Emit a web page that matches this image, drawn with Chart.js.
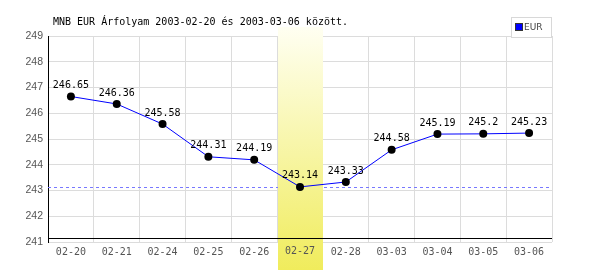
<!DOCTYPE html>
<html lang="hu">
<head>
  <meta charset="UTF-8" />
  <title>MNB EUR Árfolyam</title>
  <script src="https://cdn.jsdelivr.net/npm/chart.js"></script>
  <style>
    * { margin: 0; padding: 0; box-sizing: border-box; }
    body { background: white; }
    .chart-container { position: relative; width: 600px; height: 270px; }
  </style>
</head>
<body>
  <div class="chart-container">
    <canvas id="rateChart"></canvas>
  </div>

  <script>
    // data
    const dates = ["02-20", "02-21", "02-24", "02-25", "02-26", "02-27", "02-28", "03-03", "03-04", "03-05", "03-06"];
    const eurRates = [246.65, 246.36, 245.58, 244.31, 244.19, 243.14, 243.33, 244.58, 245.19, 245.2, 245.23];
    const highlightDay = "02-27";
    const yMin = 241;
    const yMax = 249;
    const titleText = "MNB EUR Árfolyam 2003-02-20 és 2003-03-06 között.";
    const seriesName = "EUR";

    const mono = "'DejaVu Sans Mono', monospace";

    // grid extras + yellow highlight column, drawn under the line
    const backdrop = {
      id: 'backdrop',
      beforeDatasetsDraw(chart) {
        const { ctx, chartArea: a, scales: { x, y } } = chart;
        ctx.save();

        // dashed line at the minimum
        const yLow = y.getPixelForValue(Math.min(...eurRates));
        ctx.strokeStyle = '#7878ff';
        ctx.lineWidth = 1;
        ctx.setLineDash([3, 3]);
        ctx.beginPath();
        ctx.moveTo(a.left, Math.round(yLow) + 0.5);
        ctx.lineTo(a.right, Math.round(yLow) + 0.5);
        ctx.stroke();
        ctx.setLineDash([]);

        // highlight column
        const idx = dates.indexOf(highlightDay);
        const cx = x.getPixelForValue(idx);
        const w = (a.right - a.left) / dates.length;
        const top = a.top - 9;
        const bottom = chart.height;
        const g = ctx.createLinearGradient(0, top, 0, bottom);
        g.addColorStop(0, '#fffff2');
        g.addColorStop(1, '#f0ec5c');
        ctx.fillStyle = g;
        ctx.fillRect(Math.round(cx - w / 2) + 1, top, Math.round(w) - 1, bottom - top);

        // its tick label sits on top of the column
        ctx.font = '10px ' + mono;
        ctx.fillStyle = '#555';
        ctx.textAlign = 'center';
        ctx.textBaseline = 'top';
        ctx.fillText(highlightDay, cx, a.bottom + 4);

        // black base line
        ctx.strokeStyle = '#000';
        ctx.beginPath();
        ctx.moveTo(a.left, a.bottom - 4 + 0.5);
        ctx.lineTo(a.right, a.bottom - 4 + 0.5);
        ctx.stroke();
        ctx.restore();
      },
      afterDatasetsDraw(chart) {
        const { ctx } = chart;
        const pts = chart.getDatasetMeta(0).data;
        ctx.save();
        ctx.font = '10px ' + mono;
        ctx.fillStyle = '#000';
        ctx.textAlign = 'center';
        ctx.textBaseline = 'bottom';
        pts.forEach((p, i) => {
          ctx.fillText(String(eurRates[i]), p.x, p.y - 6);
        });
        ctx.restore();
      },
      afterDraw(chart) {
        const { ctx } = chart;
        ctx.save();
        // title
        ctx.font = '10px ' + mono;
        ctx.fillStyle = '#000';
        ctx.textBaseline = 'middle';
        ctx.textAlign = 'left';
        ctx.fillText(titleText, 53, 22);

        // legend box
        ctx.fillStyle = '#fff';
        ctx.fillRect(512, 17, 40, 20);
        ctx.strokeStyle = '#d8d8d8';
        ctx.strokeRect(511.5, 17.5, 40, 20);
        ctx.fillStyle = '#0000ff';
        ctx.fillRect(516, 24, 6, 6);
        ctx.strokeStyle = '#333';
        ctx.strokeRect(515.5, 23.5, 7, 7);
        ctx.fillStyle = '#444';
        ctx.font = "9px 'DejaVu Sans', sans-serif";
        ctx.fillText(seriesName, 524, 27.5);
        ctx.restore();
      }
    };

    new Chart(document.getElementById('rateChart'), {
      type: 'line',
      data: {
        labels: dates,
        datasets: [{
          label: seriesName,
          data: eurRates,
          borderColor: '#0000ff',
          borderWidth: 1,
          pointRadius: 4,
          pointBackgroundColor: '#000',
          pointBorderWidth: 0,
          tension: 0
        }]
      },
      options: {
        responsive: true,
        maintainAspectRatio: false,
        animation: false,
        layout: { padding: { top: 36, right: 48, left: 0, bottom: 0 } },
        plugins: {
          legend: { display: false },
          title: { display: false },
          tooltip: { enabled: false }
        },
        scales: {
          x: {
            offset: true,
            grid: { offset: true, color: '#dcdcdc', drawTicks: false },
            border: { display: false },
            ticks: { color: '#555', font: { family: mono, size: 10 }, padding: 4, maxRotation: 0 },
            afterFit(s) { s.height = 28; }
          },
          y: {
            min: yMin,
            max: yMax,
            grid: { color: '#dcdcdc', drawTicks: false },
            border: { color: '#000' },
            ticks: { stepSize: 1, color: '#555', font: { family: "'Liberation Sans', sans-serif", size: 10.5 }, padding: 5 },
            afterFit(s) { s.width = 48; }
          }
        }
      },
      plugins: [backdrop]
    });
  </script>
</body>
</html>
